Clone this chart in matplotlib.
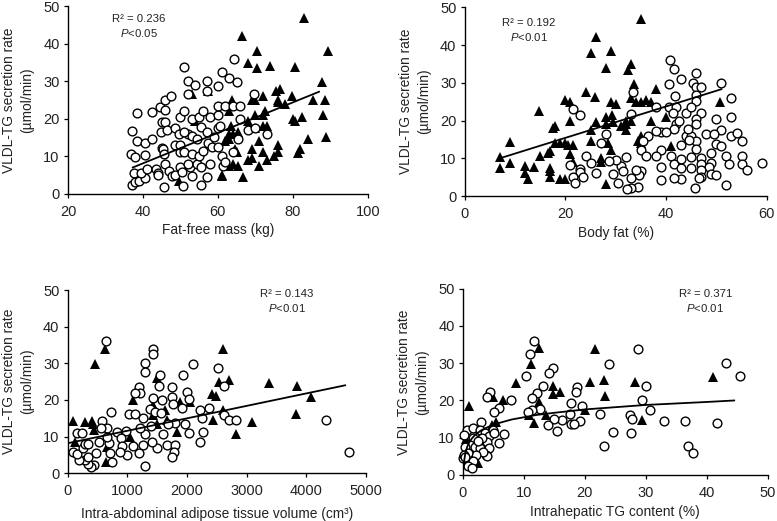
import matplotlib
matplotlib.use("Agg")
import matplotlib.pyplot as plt

plt.rcParams['font.family'] = ['Liberation Sans', 'DejaVu Sans']
plt.rcParams['mathtext.fontset'] = 'custom'
plt.rcParams['mathtext.rm'] = 'Liberation Sans'
plt.rcParams['mathtext.it'] = 'Liberation Sans:italic'

# Fat-free mass panel
ffm_circ_x = [37, 37.5, 38, 39, 40.5, 39.5, 41, 43.5, 44, 44, 36.8, 38, 40.5, 38.5, 40.5, 42.5, 37, 38.5, 42.3, 44.5,
              46, 47.5, 46, 45, 46, 44.8, 46.5, 48.5, 49.5, 45, 45.3, 45.5, 46, 47, 47.8, 48.5, 50, 50.5, 45.5, 50.7,
              55.5, 57.2, 53, 52.5, 52, 54.5, 55.5, 58, 50, 48.5, 50, 51, 53, 55, 56, 57.5, 58.5, 60, 61, 61.5,
              62, 64, 50, 51, 52, 52, 54, 51, 52, 53, 51, 54.5, 55.5, 53, 55, 56, 58, 57, 59, 60,
              60.5, 60, 60, 62, 64, 66, 60, 57.2, 61, 63, 65, 64.2, 57, 65.5, 66, 68, 70, 69.7, 73]
ffm_circ_y = [2.3, 5.5, 3, 3.5, 4.2, 5.5, 6.5, 6.5, 5.5, 5, 10.7, 9.7, 10.3, 14, 13.5, 14.5, 16.8, 21.5, 21.8, 23,
              25, 26.2, 22.2, 19, 19, 16.5, 17, 17.5, 16, 12.3, 12, 10.5, 8, 6, 4.6, 5, 7, 5.7, 1.8, 2,
              2.4, 4.5, 4.8, 7, 8, 8, 7, 8, 11, 13, 13, 11, 10.5, 10, 11.5, 13.5, 12.5, 12.5, 10, 7.5,
              8.5, 11, 20.5, 22, 26.5, 30, 29, 33.7, 15.8, 15.5, 16.5, 14.5, 17.8, 20, 20.5, 22, 20.5, 16.5, 15, 17.5,
              18, 21, 23.5, 23.5, 23.5, 23.5, 28.7, 30, 32.5, 31, 29.8, 36, 27.3, 14.5, 20, 17, 17.5, 26.7, 16]
ffm_tri_x = [66.5, 83, 89.5, 70.5, 68, 70.5, 73.8, 80.5, 87.8, 76.5, 75.5, 79.8, 72, 69, 70, 63.8, 76, 76, 85.5, 88.5,
             78, 72.5, 63, 70, 72, 88, 82.5, 80, 80.5, 68, 72, 73, 70, 63.5, 63, 64, 65.5, 62, 63, 71,
             64.5, 65, 69, 72, 76, 76, 75, 84, 82, 81.5, 89, 68, 69, 73, 71, 64, 65.5, 63, 61, 61,
             66.7, 49.5, 57.5, 53, 54]
ffm_tri_y = [42, 47, 38, 38, 35, 33.5, 34, 33.8, 29.8, 28, 27.5, 26, 26, 25, 25, 25, 25, 24.5, 25, 25,
             24, 22, 22, 21, 21, 21, 20.5, 20, 19.5, 19.5, 18, 18, 17.5, 18, 16, 16, 16.5, 14, 14.5, 14,
             12, 11, 12, 11, 13, 11, 10, 14.5, 12, 10.8, 15, 9, 9.5, 9, 7.5, 8, 7.5, 7.5, 5, 4.7,
             4.5, 3.3, 27.5, 26.5, 19.5]
ffm_line_x = [37.3, 87]
ffm_line_y = [7, 27.2]

# Body fat panel
fat_circ_x = [40.8, 41.5, 43, 46, 45.3, 40.5, 46, 47, 51, 46, 46, 53, 41.7, 33.5, 38, 40.5, 42, 44, 45, 47,
              33, 21.5, 23, 41.3, 42, 42.5, 46, 46, 50, 53, 51, 41.5, 39, 40, 38, 36.5, 35.5, 28, 27, 44,
              45, 46, 48, 49.5, 53, 54, 55, 44.3, 43, 44.5, 50, 51, 35, 39, 36, 38, 46, 47, 49, 52,
              55, 55, 56, 52.5, 59, 41, 41.5, 43, 43, 45, 45, 47, 49, 48.5, 47, 49, 50, 47, 46.5, 52,
              45.8, 43, 41.5, 39, 39, 35, 34.7, 34, 32, 31, 30, 28.7, 29.5, 31.5, 30.5, 33, 34.5, 33, 32.3, 24,
              25, 21, 26, 23, 23, 23.5, 21.5, 22]
fat_circ_y = [36, 33.7, 31, 32.5, 30, 29.8, 28.8, 29, 30, 26.7, 25.3, 26, 26.5, 27.5, 23.5, 23.7, 23.5, 22, 23.5, 22,
              21.7, 23, 21.5, 22, 19, 20, 20.5, 19, 20.3, 21, 17.5, 17.7, 17, 17, 17.3, 16, 14.5, 16.3, 14, 16,
              16, 14.5, 16.5, 16.5, 16, 16.8, 14.5, 17.8, 13.5, 14.8, 13.8, 13.3, 12.2, 12.3, 10.6, 10.5, 12.5, 10, 11.5, 10.5,
              10.5, 8.5, 7, 8.5, 8.8, 10.5, 8.5, 7.5, 9.8, 10.3, 7.3, 8.5, 8.8, 7.8, 7, 5.7, 5.5, 5, 4.8, 3,
              2, 4.5, 4.8, 4.2, 7.7, 6.5, 5.5, 7, 10.3, 8, 9.5, 9.2, 5.8, 6.5, 3.5, 4.7, 2.3, 2.2, 1.8, 10.7,
              8.8, 8.3, 6, 7.2, 6.3, 5, 5, 3.5]
fat_tri_x = [35, 26, 29, 25, 28, 33, 32.5, 33.7, 24, 25.8, 20, 21, 33, 34, 35, 36, 37, 38, 50.8, 14.8,
             29, 30, 28, 29.2, 26, 28, 29.5, 31, 32, 32, 33, 32, 25, 21, 18, 17.5, 37, 40, 18, 19,
             20, 20.5, 21.5, 25, 35, 34.5, 35, 28.5, 29, 41, 17, 16.5, 15, 7, 9, 21, 21.5, 27, 27, 9,
             7, 12, 13.7, 12, 12.5, 17, 17, 17, 19, 20, 28]
fat_tri_y = [47, 42, 38.3, 37.8, 33.8, 35, 33.5, 29.8, 27.5, 26.3, 25.5, 25, 26, 25, 25, 25.5, 25, 28.3, 25, 22.5,
             25, 24.5, 21, 21.5, 19.5, 19, 19.5, 18.5, 19, 20, 20, 17.5, 17.5, 19.8, 18.5, 18, 20, 21, 14, 14,
             14, 13.5, 13.5, 14.5, 16, 14.5, 14, 14, 12.3, 13.2, 12, 11.5, 10.5, 10.3, 14.3, 11, 9, 10, 9, 8.7,
             7.3, 8, 7.8, 6, 4.5, 7.5, 6.5, 5, 4.5, 4.5, 3.3]
fat_line_x = [7, 51]
fat_line_y = [10, 28.3]

# Intra-abdominal adipose tissue panel
iaat_circ_x = [640, 1435, 1435, 1296, 1290, 2106, 1933, 1548, 1536, 1190, 1212, 1123, 1755, 2005, 2028, 1430, 1587, 1749, 1760, 1910,
               2525, 2620, 1033, 1123, 721, 570, 1263, 1380, 1464, 1559, 1793, 1687, 1972, 2218, 2375, 2251, 2620, 2704, 2821, 4330,
               4715, 2263, 2039, 1603, 2218, 1659, 1799, 1782, 1749, 1492, 1408, 1296, 1212, 1391, 1257, 1190, 1100, 1302, 1000, 983,
               832, 888, 905, 877, 710, 737, 698, 665, 654, 559, 525, 475, 441, 385, 341, 296, 184, 84, 162, 263,
               290, 346, 346, 162, 246]
iaat_circ_y = [36, 33.8, 32.5, 30.2, 27.5, 29.8, 26.7, 26.7, 23.7, 23.5, 22, 22, 23.6, 22.3, 20.2, 20.5, 20, 20.7, 19, 17.7,
               28.8, 23.7, 16.3, 16.3, 16.7, 14.4, 15, 17.5, 16.8, 16.5, 13.8, 13.5, 13.5, 17.3, 17.9, 15, 16, 14.6, 14.5, 14.5,
               5.9, 11.3, 10.9, 10.6, 8.6, 7.6, 7.7, 5.8, 4.5, 7, 8.6, 10.7, 12.3, 13, 7.7, 5.6, 7.5, 2.1, 4.9, 11.5,
               11.4, 9.5, 7.5, 5.7, 5.5, 3.2, 8.2, 10, 12.3, 12.3, 8.6, 5.6, 2.3, 1.8, 2.5, 3.6, 3.5, 5.9, 5.3, 6.8,
               7.9, 8, 4.5, 10.9, 10.9]
iaat_tri_x = [620, 453, 2598, 3369, 3844, 2542, 2704, 1503, 1100, 2425, 2486, 4079, 1436, 1883, 2050, 1631, 2609, 3822, 2441, 3095,
              90, 290, 408, 430, 1436, 1492, 1659, 447, 1045, 1827, 2821, 117, 642, 654]
iaat_tri_y = [33.8, 29.7, 34, 24.6, 23.9, 24.8, 25.5, 25.9, 20, 21.6, 21.2, 20.9, 18.6, 19.4, 19.4, 17.3, 17.3, 16.3, 14.5, 13.9,
              14.4, 14, 14.3, 13.5, 15.8, 13.5, 14.5, 11.8, 10, 11.4, 10.8, 8.6, 3.2, 7.3]
iaat_line_x = [0, 4650]
iaat_line_y = [8.2, 24]

# Intrahepatic TG panel
ihtg_circ_x = [11.65, 11, 28.7, 24, 43.1, 45.5, 14.8, 14.1, 10.3, 13.1, 18.7, 30.1, 12.1, 18.5, 4.5, 3.9, 11.3, 7.9, 29.4, 5.9,
               5.1, 17.7, 19.6, 12.6, 11.3, 10.7, 17.5, 30.7, 22.4, 27.4, 27.7, 16.3, 14.9, 19.2, 33, 36.4, 41.6, 13.9, 17.8, 18.2,
               15.4, 24.6, 27.5, 23.2, 36.9, 37.8, 6.7, 5.9, 2.9, 0.7, 1.7, 0.2, 1.7, 2.8, 3.6, 4.2, 5, 5.1, 3.9, 4.3,
               3.8, 3.9, 1.1, 2, 2.8, 3.3, 2.1, 0.3, 0.9, 0, 0.2, 1.6, 0.8, 1.4, 3.1, 0.3, 2.5]
ihtg_circ_y = [36, 32.6, 33.8, 29.9, 30.1, 26.7, 28.8, 27.5, 26.7, 23.8, 23.6, 23.8, 22.1, 22.4, 22.2, 20.8, 20.6, 20.2, 20, 18,
               16.8, 19.2, 18.6, 17.7, 17.4, 17, 16.5, 17.5, 16.4, 16.2, 15, 14.8, 14.9, 14.6, 14.5, 14.5, 14, 13.3, 13.6, 13.6,
               11.9, 11.6, 11.4, 7.8, 7.8, 5.9, 11.1, 8.7, 14.3, 12.1, 12.7, 10.8, 10, 12, 11.2, 10.5, 12, 11.2, 8.8, 7.2,
               5.5, 5, 8, 7.6, 7.3, 6.3, 5.5, 7.5, 6, 4.5, 5.4, 3.8, 2.5, 1.8, 9.8, 4.7, 9.1]
ihtg_tri_x = [12.5, 11.2, 21.7, 41.1, 28.2, 20.8, 23.2, 8.7, 14.7, 23.3, 14.7, 15.9, 5, 6.6, 1, 12.5, 20, 13.7, 10.8, 11.7,
              29.4, 5.4, 4.7, 3.1, 0.5, 2.4]
ihtg_tri_y = [34.2, 29.8, 33.9, 26.3, 25, 25, 25.4, 24.8, 24, 21.3, 21.7, 22.4, 21, 20, 18.6, 19.7, 17.4, 16.1, 16, 14,
              14.7, 14.3, 13.4, 11.2, 9.7, 3.3]
ihtg_line_x = [0.1, 0.2, 0.4, 0.7, 1, 1.5, 2, 3, 4, 5, 6, 8, 10, 12, 15, 20, 25, 30, 35, 40, 44.5]
ihtg_line_y = [1.9, 3.9, 6, 7.6, 8.7, 9.9, 10.8, 12, 12.8, 13.5, 14, 14.9, 15.5, 16.1, 16.7, 17.6, 18.2, 18.8, 19.2, 19.6, 20]


def draw_panel(fig, box, xlim, xticks, xlabel, tri, circ, line, note, note_pos, xpad=3.3):
    """Desenha um painel a partir da caixa em pixels (esq, dir, base, topo)."""
    left, right, bottom, top = box
    ax = fig.add_axes([left / 777, 1 - bottom / 521, (right - left) / 777, (bottom - top) / 521])

    ax.plot(tri[0], tri[1], '^', color='black', ms=7.6, mew=0, clip_on=False, zorder=2)
    ax.plot(circ[0], circ[1], 'o', mfc='white', mec='black', ms=6.3, mew=1.0, clip_on=False, zorder=3)
    ax.plot(line[0], line[1], '-', color='black', lw=1.3, zorder=4)

    ax.set_xlim(xlim)
    ax.set_ylim(0, 50)
    ax.set_xticks(xticks)
    ax.set_yticks([0, 10, 20, 30, 40, 50])
    ax.tick_params(labelsize=10.5, length=3, width=0.9, labelcolor='#222222')
    ax.tick_params(axis='x', pad=5)
    ax.tick_params(axis='y', pad=3)
    for side in ['top', 'right']:
        ax.spines[side].set_visible(False)
    for side in ['left', 'bottom']:
        ax.spines[side].set_linewidth(1.0)

    ax.set_xlabel(xlabel, fontsize=9.9, color='#222222', labelpad=xpad)
    ax.set_ylabel('VLDL-TG secretion rate\n(µmol/min)', fontsize=9.9, color='#222222', labelpad=6.6, linespacing=1.35)
    ax.text(note_pos[0], note_pos[1], note, transform=ax.transAxes, fontsize=8.2, color='#222222',
            ha='center', va='top', linespacing=1.3)
    return ax


fig = plt.figure(figsize=(7.77, 5.21), dpi=100)

draw_panel(fig, (68, 367.7, 193.7, 6.3), (20, 100), [20, 40, 60, 80, 100], 'Fat-free mass (kg)',
           (ffm_tri_x, ffm_tri_y), (ffm_circ_x, ffm_circ_y), (ffm_line_x, ffm_line_y),
           'R² = 0.236\n$\\mathit{P}$<0.05', (0.237, 0.96))
draw_panel(fig, (464.7, 766.7, 196, 7.3), (0, 60), [0, 20, 40, 60], 'Body fat (%)',
           (fat_tri_x, fat_tri_y), (fat_circ_x, fat_circ_y), (fat_line_x, fat_line_y),
           'R² = 0.192\n$\\mathit{P}$<0.01', (0.212, 0.945))
draw_panel(fig, (67.7, 366, 473.3, 290), (0, 5000), [0, 1000, 2000, 3000, 4000, 5000],
           'Intra-abdominal adipose tissue volume (cm³)',
           (iaat_tri_x, iaat_tri_y), (iaat_circ_x, iaat_circ_y), (iaat_line_x, iaat_line_y),
           'R² = 0.143\n$\\mathit{P}$<0.01', (0.735, 1.005), xpad=6)
draw_panel(fig, (463, 767.7, 475, 288.7), (0, 50), [0, 10, 20, 30, 40, 50], 'Intrahepatic TG content (%)',
           (ihtg_tri_x, ihtg_tri_y), (ihtg_circ_x, ihtg_circ_y), (ihtg_line_x, ihtg_line_y),
           'R² = 0.371\n$\\mathit{P}$<0.01', (0.795, 1.0))

fig.savefig('out.png', dpi=100)
